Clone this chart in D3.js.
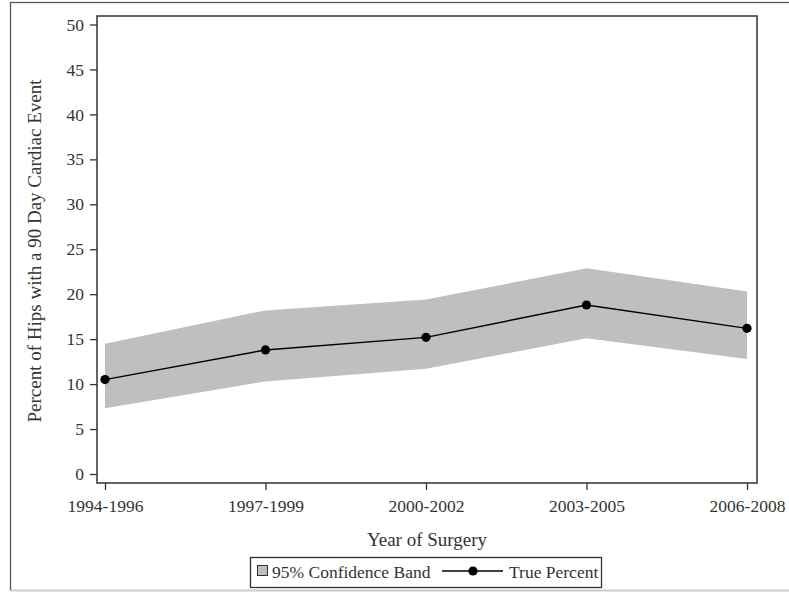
<!DOCTYPE html>
<html><head><meta charset="utf-8">
<script src="https://cdn.jsdelivr.net/npm/d3@7"></script>
<style>html,body{margin:0;padding:0;background:#fff}svg{display:block}</style>
</head><body>
<script>
const categories = ["1994-1996","1997-1999","2000-2002","2003-2005","2006-2008"];
const truePercent = [10.5, 13.8, 15.2, 18.8, 16.2];
const upperCI = [14.5, 18.2, 19.4, 22.9, 20.3];
const lowerCI = [7.3, 10.3, 11.7, 15.1, 12.8];
const yTicks = [0,5,10,15,20,25,30,35,40,45,50];

const W = 789, H = 592;
const font = "'Liberation Serif', 'Times New Roman', serif";
const svg = d3.select("body").append("svg").attr("width", W).attr("height", H);

// outer frame
svg.append("rect").attr("x",10.5).attr("y",2.5).attr("width",W).attr("height",588)
  .attr("fill","none").attr("stroke","#555").attr("stroke-width",1.3);
svg.append("line").attr("x1",10).attr("x2",W).attr("y1",590.5).attr("y2",590.5)
  .attr("stroke","#ccc").attr("stroke-width",1);

const frame = {l:97, t:16, r:757, b:483};
const x = d3.scalePoint().domain(categories).range([105, 747]);
const y = d3.scaleLinear().domain([0,50]).range([474, 24.5]);

const data = categories.map((c,i)=>({c, v:truePercent[i], lo:lowerCI[i], hi:upperCI[i]}));

// band
svg.append("path").datum(data)
  .attr("d", d3.area().x(d=>x(d.c)).y0(d=>y(d.lo)).y1(d=>y(d.hi)))
  .attr("fill","#bfbfbf");

// line
svg.append("path").datum(data)
  .attr("d", d3.line().x(d=>x(d.c)).y(d=>y(d.v)))
  .attr("fill","none").attr("stroke","#000").attr("stroke-width",1.4);
svg.selectAll("circle.pt").data(data).enter().append("circle")
  .attr("cx",d=>x(d.c)).attr("cy",d=>y(d.v)).attr("r",4.6).attr("fill","#000");

// plot frame
svg.append("rect").attr("x",frame.l).attr("y",frame.t)
  .attr("width",frame.r-frame.l).attr("height",frame.b-frame.t)
  .attr("fill","none").attr("stroke","#333").attr("stroke-width",1.5);

// y axis
const yAxis = d3.axisLeft(y).tickValues(yTicks).tickSize(7).tickPadding(6);
const gy = svg.append("g").attr("transform",`translate(${frame.l},0)`).call(yAxis);
gy.select(".domain").remove();
gy.selectAll(".tick line").attr("stroke","#333").attr("stroke-width",1.3);
gy.selectAll(".tick text").attr("font-family",font).attr("font-size",17.5).attr("fill","#333");

// x axis
const xAxis = d3.axisBottom(x).tickSize(7).tickPadding(10);
const gx = svg.append("g").attr("transform",`translate(0,${frame.b})`).call(xAxis);
gx.select(".domain").remove();
gx.selectAll(".tick line").attr("stroke","#333").attr("stroke-width",1.3);
gx.selectAll(".tick text").attr("font-family",font).attr("font-size",17.5).attr("fill","#333");

// axis titles
svg.append("text").attr("x",427).attr("y",546).attr("text-anchor","middle")
  .attr("font-family",font).attr("font-size",19).attr("fill","#333").text("Year of Surgery");
svg.append("text").attr("transform","translate(41,251) rotate(-90)").attr("text-anchor","middle")
  .attr("font-family",font).attr("font-size",19).attr("fill","#333")
  .text("Percent of Hips with a 90 Day Cardiac Event");

// legend
const lg = svg.append("g");
lg.append("rect").attr("x",250.5).attr("y",557.5).attr("width",351).attr("height",30)
  .attr("fill","#fff").attr("stroke","#333").attr("stroke-width",1.3);
lg.append("rect").attr("x",257.5).attr("y",565.5).attr("width",10).attr("height",10)
  .attr("fill","#bfbfbf").attr("stroke","#333").attr("stroke-width",1);
lg.append("text").attr("x",272).attr("y",578).attr("font-family",font).attr("font-size",17.5)
  .attr("fill","#333").text("95% Confidence Band");
lg.append("line").attr("x1",442).attr("x2",503).attr("y1",571).attr("y2",571)
  .attr("stroke","#000").attr("stroke-width",1.4);
lg.append("circle").attr("cx",473).attr("cy",571).attr("r",4.6).attr("fill","#000");
lg.append("text").attr("x",509).attr("y",578).attr("font-family",font).attr("font-size",17.5)
  .attr("fill","#333").text("True Percent");
</script>
</body></html>
